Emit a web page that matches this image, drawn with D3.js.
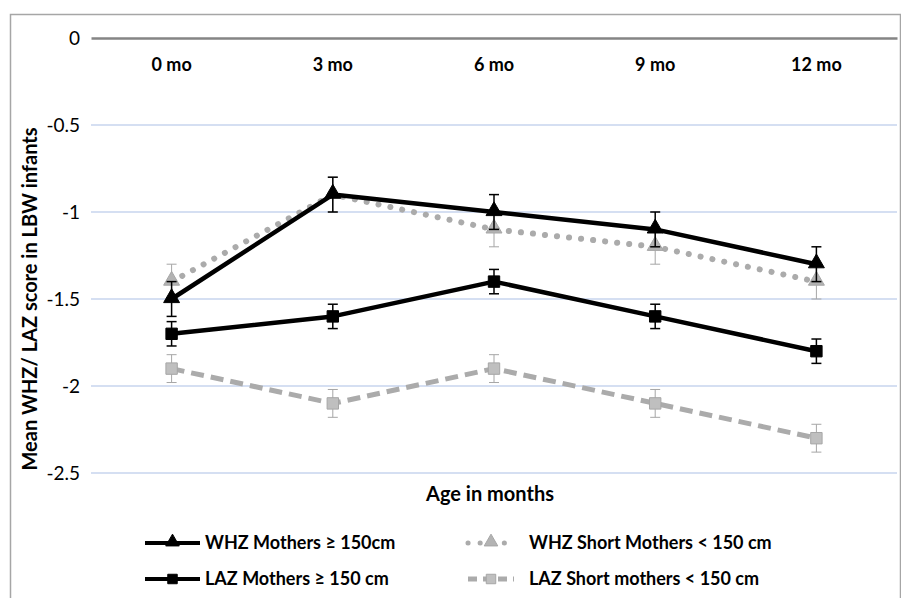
<!DOCTYPE html>
<html>
<head>
<meta charset="utf-8">
<script src="https://cdn.jsdelivr.net/npm/d3@7"></script>
<style>
  body { margin: 0; background: #fff; }
  svg text { font-family: Lato, "Open Sans", sans-serif; fill: #000; }
</style>
</head>
<body>
<svg id="chart" width="901" height="598"></svg>
<script>
var months = ["0 mo", "3 mo", "6 mo", "9 mo", "12 mo"];
var yTicks = [0, -0.5, -1, -1.5, -2, -2.5];

var whzTall = [-1.5, -0.9, -1.0, -1.1, -1.3];
var whzTallErr = [0.1, 0.1, 0.1, 0.1, 0.1];
var whzShort = [-1.4, -0.9, -1.1, -1.2, -1.4];
var whzShortErr = [0.1, 0.1, 0.1, 0.1, 0.1];
var lazTall = [-1.7, -1.6, -1.4, -1.6, -1.8];
var lazTallErr = [0.07, 0.07, 0.07, 0.07, 0.07];
var lazShort = [-1.9, -2.1, -1.9, -2.1, -2.3];
var lazShortErr = [0.08, 0.08, 0.08, 0.08, 0.08];

var seriesNames = ["WHZ Mothers \u2265 150cm", "WHZ Short Mothers < 150 cm",
                   "LAZ Mothers \u2265 150 cm", "LAZ Short mothers < 150 cm"];

var grey = "#ababab";
var series = [
  { name: seriesNames[3], vals: lazShort, err: lazShortErr, color: grey, errColor: "#a6a6a6", errW: 1, dash: "13,7", lw: 5, cap: "butt", shape: "square", mfill: "#bfbfbf", mstroke: "#a6a6a6" },
  { name: seriesNames[2], vals: lazTall, err: lazTallErr, color: "#000", errColor: "#000", errW: 1.5, dash: null, lw: 4.5, cap: "butt", shape: "square", mfill: "#000", mstroke: "#000" },
  { name: seriesNames[1], vals: whzShort, err: whzShortErr, color: grey, errColor: "#a6a6a6", errW: 1, dash: "0.1,12", lw: 6, cap: "round", shape: "triangle", mfill: "#b3b3b3", mstroke: "#a6a6a6" },
  { name: seriesNames[0], vals: whzTall, err: whzTallErr, color: "#000", errColor: "#000", errW: 1.5, dash: null, lw: 4.5, cap: "butt", shape: "triangle", mfill: "#000", mstroke: "#000" }
];

var svg = d3.select("#chart");

// outer frame
svg.append("path")
  .attr("d", "M10.5,598 L10.5,14.5 L900.5,14.5 L900.5,598")
  .attr("fill", "none").attr("stroke", "#a6a6a6").attr("stroke-width", 1.5);

var x = d3.scaleBand().domain(months).range([91, 897]);
var y = d3.scaleLinear().domain([-2.5, 0]).range([473, 38]);

// gridlines
svg.append("g").selectAll("line")
  .data(yTicks.filter(function(d){ return d !== 0; }))
  .enter().append("line")
  .attr("x1", 91).attr("x2", 897)
  .attr("y1", function(d){ return y(d); }).attr("y2", function(d){ return y(d); })
  .attr("stroke", "#d5dff2").attr("stroke-width", 2);

// y tick labels
svg.append("g").selectAll("text")
  .data(yTicks).enter().append("text")
  .attr("x", 80).attr("y", function(d){ return y(d); })
  .attr("dy", "0.35em").attr("text-anchor", "end")
  .style("font-size", "19px")
  .text(function(d){ return d; });

// category axis at zero
var xAxis = svg.append("g").attr("transform", "translate(0," + y(0) + ")")
  .call(d3.axisBottom(x).tickSize(0).tickPadding(20));
xAxis.select(".domain").attr("stroke", "#858585").attr("stroke-width", 2.5);
xAxis.selectAll("text")
  .style("font-family", "Lato, sans-serif").style("font-size", "18px")
  .style("font-weight", "bold").attr("fill", "#000");

// titles
svg.append("text").attr("x", 490).attr("y", 501).attr("text-anchor", "middle")
  .style("font-size", "20px").style("font-weight", "bold").text("Age in months");
svg.append("text").attr("transform", "translate(37,299) rotate(-90)")
  .attr("text-anchor", "middle").style("font-size", "20px").style("font-weight", "bold")
  .text("Mean WHZ/ LAZ score in LBW infants");

var line = d3.line()
  .x(function(d, i){ return x(months[i]) + x.bandwidth() / 2; })
  .y(function(d){ return y(d); });

function cx(i){ return x(months[i]) + x.bandwidth() / 2; }

var triangle = d3.symbol().type(d3.symbolTriangle).size(110);
var square = d3.symbol().type(d3.symbolSquare).size(130);

series.forEach(function(s){
  var g = svg.append("g");
  g.append("path").datum(s.vals)
    .attr("d", line).attr("fill", "none")
    .attr("stroke", s.color).attr("stroke-width", s.lw)
    .attr("stroke-dasharray", s.dash).attr("stroke-linecap", s.cap)
    .attr("stroke-linejoin", "round");

  // error bars
  var eb = g.selectAll(".eb").data(s.vals).enter().append("g")
    .attr("stroke", s.errColor).attr("stroke-width", s.errW);
  eb.append("line")
    .attr("x1", function(d, i){ return cx(i); }).attr("x2", function(d, i){ return cx(i); })
    .attr("y1", function(d, i){ return y(d + s.err[i]); })
    .attr("y2", function(d, i){ return y(d - s.err[i]); });
  [1, -1].forEach(function(sign){
    eb.append("line")
      .attr("x1", function(d, i){ return cx(i) - 5; }).attr("x2", function(d, i){ return cx(i) + 5; })
      .attr("y1", function(d, i){ return y(d + sign * s.err[i]); })
      .attr("y2", function(d, i){ return y(d + sign * s.err[i]); });
  });

  g.selectAll(".mk").data(s.vals).enter().append("path")
    .attr("d", s.shape === "triangle" ? triangle : square)
    .attr("transform", function(d, i){ return "translate(" + cx(i) + "," + (y(d) + (s.shape === "triangle" ? -1 : 0)) + ")"; })
    .attr("fill", s.mfill).attr("stroke", s.mstroke).attr("stroke-width", 1);
});

// legend
var legendItems = [
  { s: series[3], x: 145, y: 543 },
  { s: series[2], x: 468, y: 543 },
  { s: series[1], x: 145, y: 579 },
  { s: series[0], x: 468, y: 579 }
];
legendItems.forEach(function(li){
  var s = li.s;
  var g = svg.append("g").attr("transform", "translate(" + li.x + "," + li.y + ")");
  var len = s.color === "#000" ? 55 : 46;
  g.append("line").attr("x1", 0).attr("x2", len).attr("y1", 0).attr("y2", 0)
    .attr("stroke", s.color).attr("stroke-width", s.color === "#000" ? 4 : 5)
    .attr("stroke-dasharray", s.dash === "13,7" ? "9,6" : s.dash).attr("stroke-linecap", s.cap);
  g.append("path").attr("d", s.shape === "triangle" ? d3.symbol().type(d3.symbolTriangle).size(80) : d3.symbol().type(d3.symbolSquare).size(90))
    .attr("transform", "translate(" + (len / 2) + "," + (s.shape === "triangle" ? -1 : 0) + ")")
    .attr("fill", s.mfill).attr("stroke", s.mstroke);
  g.append("text").attr("x", s.color === "#000" ? 60 : 61).attr("y", 0).attr("dy", "0.35em")
    .style("font-size", "18px").style("font-weight", "bold").text(s.name);
});
</script>
</body>
</html>
